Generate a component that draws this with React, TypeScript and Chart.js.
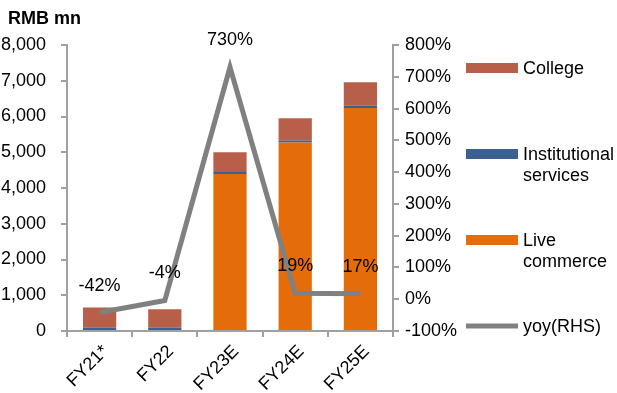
import React, { useEffect, useRef } from "react";
import { Chart, registerables } from "chart.js";

Chart.register(...registerables);

const categories = ["FY21*", "FY22", "FY23E", "FY24E", "FY25E"];
const liveCommerce = [0, 0, 4390, 5270, 6240];
const institutional = [90, 90, 60, 60, 60];
const college = [570, 520, 550, 620, 660];
const yoy = [-42, -4, 730, 19, 17];
const yoyLabels = ["-42%", "-4%", "730%", "19%", "17%"];
const leftTicks = [0, 1000, 2000, 3000, 4000, 5000, 6000, 7000, 8000];
const rightTicks = [-100, 0, 100, 200, 300, 400, 500, 600, 700, 800];

const COLORS = {
  college: "#B75F48",
  inst: "#3B6192",
  live: "#E46C0A",
  yoy: "#808080",
  axis: "#A0A0A0",
};
const FONT = "Liberation Sans, Arial, sans-serif";
const FS = 18;

const overlayPlugin = {
  id: "overlay",
  afterDatasetsDraw(chart: any) {
    const ctx = chart.ctx;
    ctx.save();
    const meta = chart.getDatasetMeta(3);
    ctx.font = `${FS}px ${FONT}`;
    ctx.fillStyle = "#000";
    ctx.textAlign = "center";
    ctx.textBaseline = "alphabetic";
    meta.data.forEach((pt: any, i: number) => {
      ctx.fillText(yoyLabels[i], pt.x, pt.y - 22);
    });
    ctx.restore();
  },
  afterDraw(chart: any) {
    const ctx = chart.ctx;
    ctx.save();
    ctx.font = `bold ${FS}px ${FONT}`;
    ctx.fillStyle = "#000";
    ctx.textAlign = "left";
    ctx.textBaseline = "alphabetic";
    ctx.fillText("RMB mn", 8, 24);
    const lx = 466;
    const lw = 52;
    const tx = 523;
    ctx.font = `${FS}px ${FONT}`;
    ctx.textBaseline = "middle";
    const entries = [
      { color: COLORS.college, y: 68, lines: ["College"], line: false },
      { color: COLORS.inst, y: 154, lines: ["Institutional", "services"], line: false },
      { color: COLORS.live, y: 240, lines: ["Live", "commerce"], line: false },
      { color: COLORS.yoy, y: 326, lines: ["yoy(RHS)"], line: true },
    ];
    entries.forEach((e) => {
      ctx.fillStyle = e.color;
      if (e.line) {
        ctx.fillRect(lx, e.y - 2.5, lw, 5);
      } else {
        ctx.fillRect(lx, e.y - 5, lw, 10);
      }
      ctx.fillStyle = "#000";
      e.lines.forEach((t, j) => ctx.fillText(t, tx, e.y + 1 + j * 21.5));
    });
    ctx.restore();
  },
};

export default function App() {
  const ref = useRef<HTMLCanvasElement>(null);
  useEffect(() => {
    if (!ref.current) return;
    Chart.defaults.font.family = FONT;
    const barCommon = {
      type: "bar" as const,
      yAxisID: "y",
      barPercentage: 0.51,
      categoryPercentage: 1,
      borderWidth: 0,
      order: 1,
    };
    const chart = new Chart(ref.current, {
      type: "bar",
      data: {
        labels: categories,
        datasets: [
          { ...barCommon, label: "Live commerce", data: liveCommerce, backgroundColor: COLORS.live },
          { ...barCommon, label: "Institutional services", data: institutional, backgroundColor: COLORS.inst },
          { ...barCommon, label: "College", data: college, backgroundColor: COLORS.college },
          {
            type: "line",
            label: "yoy(RHS)",
            data: yoy,
            yAxisID: "y1",
            borderColor: COLORS.yoy,
            backgroundColor: COLORS.yoy,
            borderWidth: 5,
            pointRadius: 0,
            tension: 0,
            order: 0,
          } as any,
        ],
      },
      options: {
        animation: false,
        responsive: false,
        layout: { padding: { left: 0, top: 45, right: 154, bottom: 0 } },
        plugins: { legend: { display: false }, tooltip: { enabled: false } },
        scales: {
          x: {
            stacked: true,
            offset: true,
            grid: {
              display: true,
              offset: true,
              drawOnChartArea: false,
              tickLength: 6,
              color: COLORS.axis,
              lineWidth: 2,
            },
            border: { color: COLORS.axis, width: 2 },
            ticks: {
              color: "#000",
              font: { size: FS },
              maxRotation: 45,
              minRotation: 45,
              padding: 4,
              labelOffset: 6,
            },
            afterFit: (s: any) => {
              s.height = 62;
            },
          },
          y: {
            stacked: true,
            position: "left",
            min: 0,
            max: 8000,
            afterBuildTicks: (s: any) => {
              s.ticks = leftTicks.map((v) => ({ value: v }));
            },
            grid: { drawOnChartArea: false, tickLength: 6, color: COLORS.axis, lineWidth: 2 },
            border: { color: COLORS.axis, width: 2 },
            ticks: {
              color: "#000",
              font: { size: FS },
              padding: 15,
              callback: (v: any) => Number(v).toLocaleString("en-US"),
            },
            afterFit: (s: any) => {
              s.width = 67;
            },
          },
          y1: {
            position: "right",
            min: -100,
            max: 800,
            afterBuildTicks: (s: any) => {
              s.ticks = rightTicks.map((v) => ({ value: v }));
            },
            grid: { drawOnChartArea: false, tickLength: 6, color: COLORS.axis, lineWidth: 2 },
            border: { color: COLORS.axis, width: 2 },
            ticks: {
              color: "#000",
              font: { size: FS },
              padding: 6,
              callback: (v: any) => `${v}%`,
            },
            afterFit: (s: any) => {
              s.width = 70;
            },
          },
        },
      },
      plugins: [overlayPlugin],
    });
    return () => chart.destroy();
  }, []);
  return (
    <div style={{ position: "fixed", left: 0, top: 0, width: 617, height: 393, background: "#fff" }}>
      <canvas ref={ref} width={617} height={393} style={{ display: "block" }} />
    </div>
  );
}
